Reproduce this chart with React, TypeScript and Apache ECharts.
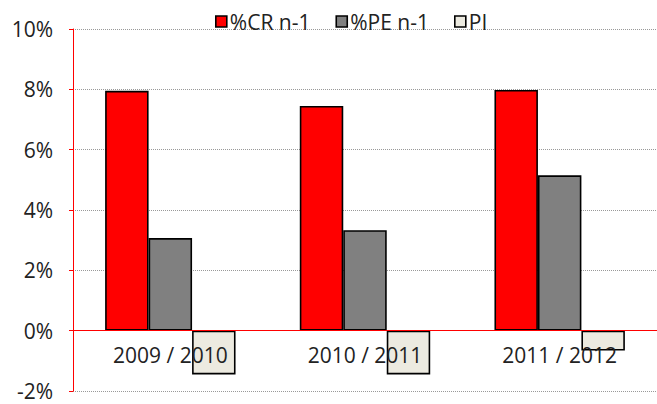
import React, { useEffect, useRef } from "react";
import * as echarts from "echarts";

const categories = ["2009 / 2010", "2010 / 2011", "2011 / 2012"];
const crValues = [7.95, 7.45, 7.98];
const peValues = [3.07, 3.33, 5.15];
const piValues = [-1.45, -1.45, -0.66];
const seriesNames = ["%CR n-1", "%PE n-1", "PI"];

export default function App() {
  const ref = useRef<HTMLDivElement>(null);
  useEffect(() => {
    if (!ref.current) return;
    const chart = echarts.init(ref.current, null, { renderer: "svg" });
    const font = "'Open Sans', 'Noto Sans', sans-serif";
    const barStyle = (color: string) => ({
      color,
      borderColor: "#000",
      borderWidth: 1.6,
    });
    chart.setOption({
      animation: false,
      textStyle: { fontFamily: font },
      legend: {
        top: 11,
        left: 215,
        padding: 0,
        icon: "rect",
        itemWidth: 11,
        itemHeight: 11,
        itemGap: 25,
        itemStyle: { borderColor: "#000", borderWidth: 1.6 },
        textStyle: { fontSize: 21, color: "#222", fontFamily: font, padding: [0, 0, 0, -2] },
        data: seriesNames,
      },
      grid: { left: 73, right: 0, top: 29, bottom: 13, containLabel: false, outerBoundsMode: "none" },
      xAxis: {
        type: "category",
        data: categories,
        axisLine: { onZero: true, lineStyle: { color: "#ff0000", width: 1 } },
        axisTick: { show: false },
        axisLabel: { fontSize: 21, color: "#222", margin: -47, fontFamily: font },
        splitLine: { show: false },
        z: 10,
      },
      yAxis: {
        type: "value",
        min: -2,
        max: 10,
        interval: 2,
        axisLine: { show: true, lineStyle: { color: "#ff0000", width: 1 } },
        axisTick: { show: true, length: 4, lineStyle: { color: "#ff0000" } },
        axisLabel: {
          formatter: "{value}%",
          fontSize: 21,
          lineHeight: 18,
          color: "#222",
          margin: 20,
          fontFamily: font,
        },
        splitLine: { show: true, lineStyle: { color: "#999", type: "dotted", width: 1 } },
      },
      series: [
        {
          name: seriesNames[0],
          type: "bar",
          data: crValues,
          itemStyle: barStyle("#ff0000"),
          barGap: "0%",
          barCategoryGap: "33%",
        },
        {
          name: seriesNames[1],
          type: "bar",
          data: peValues,
          itemStyle: barStyle("#808080"),
          barGap: "0%",
          barCategoryGap: "33%",
        },
        {
          name: seriesNames[2],
          type: "bar",
          data: piValues,
          itemStyle: barStyle("#ECEAE0"),
          barGap: "0%",
          barCategoryGap: "33%",
        },
      ],
    });
    return () => chart.dispose();
  }, []);
  return <div ref={ref} style={{ width: 657, height: 404, position: "absolute", left: 0, top: 0 }} />;
}
